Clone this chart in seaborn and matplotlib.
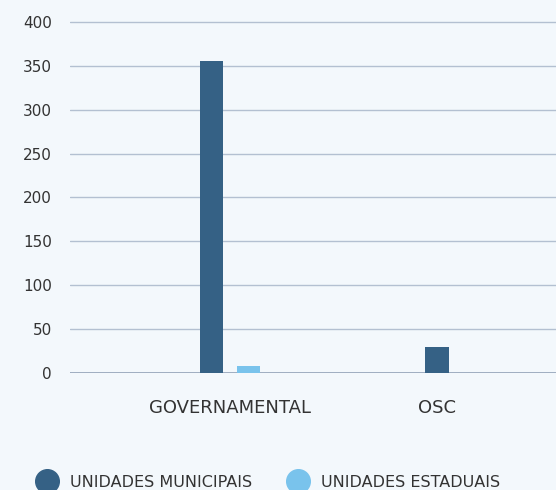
import matplotlib
matplotlib.use("Agg")
import matplotlib.pyplot as plt
import seaborn as sns
import pandas as pd
from matplotlib.lines import Line2D

categories = ["GOVERNAMENTAL", "OSC"]
series = ["UNIDADES MUNICIPAIS", "UNIDADES ESTADUAIS"]
municipais = [355, 30]
estaduais = [8, None]  # OSC has no state units bar
yticks = [0, 50, 100, 150, 200, 250, 300, 350, 400]

colors = ["#356185", "#79c3ec"]
bg = "#f3f8fc"

df = pd.DataFrame({
    "categoria": categories * 2,
    "serie": [series[0]] * 2 + [series[1]] * 2,
    "valor": municipais + estaduais,
}).dropna()

sns.set_style("white")
plt.rcParams["font.family"] = ["DejaVu Sans"]

fig = plt.figure(figsize=(5.56, 4.90), dpi=100, facecolor=bg)
ax = fig.add_axes([70 / 556, 1 - 373 / 490, 1 - 70 / 556, 352 / 490])
ax.set_facecolor(bg)

for cat in categories:
    sub = df[df["categoria"] == cat]
    present = [s for s in series if s in set(sub["serie"])]
    if len(present) > 1:
        sns.barplot(data=sub, x="categoria", y="valor", hue="serie", order=categories,
                    hue_order=present, palette=[colors[series.index(s)] for s in present],
                    width=0.36, gap=0.38, ax=ax, legend=False, saturation=1,
                    linewidth=0)
    else:
        sns.barplot(data=sub, x="categoria", y="valor", order=categories,
                    color=colors[series.index(present[0])], width=0.112,
                    ax=ax, saturation=1, linewidth=0)

ax.set_xlim(-0.773, 1.575)
ax.set_ylim(0, 401)
ax.set_yticks(yticks)
ax.set_yticklabels([str(t) for t in yticks])
ax.yaxis.grid(True, color="#b3c0d1", linewidth=1)
ax.set_axisbelow(True)
for s in ax.spines.values():
    s.set_visible(False)
ax.axhline(0, color="#8c9cb3", linewidth=1.2, zorder=0.5)
ax.tick_params(axis="y", length=0, pad=13, labelsize=11, labelcolor="#333333")
ax.tick_params(axis="x", length=0, pad=19, labelsize=13, labelcolor="#333333")
ax.set_xlabel("")
ax.set_ylabel("")

handles = [Line2D([0], [0], marker="o", linestyle="", markersize=17,
                  markerfacecolor=c, markeredgecolor=c) for c in colors]
fig.legend(handles, series, loc="center left",
           bbox_to_anchor=(25 / 556, 1 - 482 / 490), ncol=2, frameon=False,
           fontsize=11.5, handlelength=1.0, handletextpad=0.9,
           columnspacing=2.4, labelcolor="#333333")

fig.savefig("out.png", dpi=100, facecolor=bg)
